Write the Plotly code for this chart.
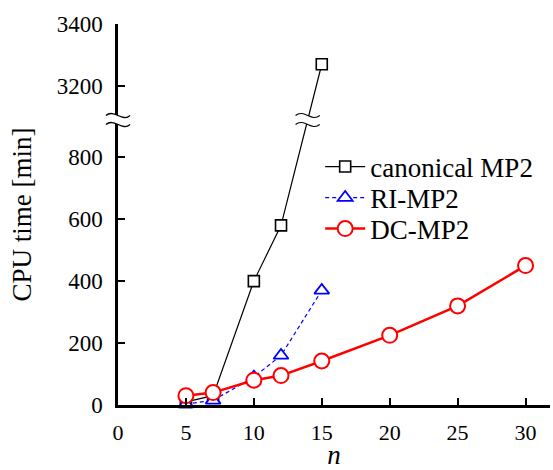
import plotly.graph_objects as go

# ---- data ----
n_canon = [5, 7, 10, 12, 15]
t_canon = [10, 30, 400, 580, 3270]
n_ri = [5, 7, 10, 12, 15]
t_ri = [3, 15, 90, 160, 370]
n_dc = [5, 7, 10, 12, 15, 20, 25, 30]
t_dc = [30, 40, 80, 95, 142, 225, 320, 450]

low_ticks = [0, 200, 400, 600, 800]
high_ticks = [3200, 3400]
x_ticks = [0, 5, 10, 15, 20, 25, 30]

# broken axis: lower part 0..BREAK_LO, upper part BREAK_HI..3400
BREAK_LO = 920
BREAK_HI = 3090
OFFSET = BREAK_HI - BREAK_LO
Y_MAX = 3400 - OFFSET
X_MAX = 31.8

def disp(v):
    return v if v <= BREAK_LO else v - OFFSET

FONT = "Liberation Serif"
PLOT_H = 470 - 24 - 65

fig = go.Figure()
fig.add_trace(go.Scatter(
    x=n_canon, y=[disp(v) for v in t_canon], name="canonical MP2", legend="legend",
    mode="lines+markers", cliponaxis=False,
    line=dict(color="black", width=1.2),
    marker=dict(symbol="square", size=11, color="white",
                line=dict(color="black", width=1.6))))
fig.add_trace(go.Scatter(
    x=n_ri, y=[disp(v) for v in t_ri], name="RI-MP2", legend="legend2",
    mode="lines+markers", cliponaxis=False,
    line=dict(color="blue", width=1.2, dash="4px,3px"),
    marker=dict(symbol="triangle-up", size=13, color="white",
                line=dict(color="blue", width=1.8))))
fig.add_trace(go.Scatter(
    x=n_dc, y=[disp(v) for v in t_dc], name="DC-MP2", legend="legend3",
    mode="lines+markers", cliponaxis=False,
    line=dict(color="red", width=2.5),
    marker=dict(symbol="circle", size=15, color="white",
                line=dict(color="red", width=2))))

# ---- break marks ----
def tilde(cx, cy, a, h):
    return (f"M{cx-a},{cy} C{cx-a/3},{cy+2*h} {cx+a/3},{cy-2*h} {cx+a},{cy}")

def gap(cx, cy, a, h, g):
    top = cy + g
    bot = cy - g
    return (f"M{cx-a},{top} C{cx-a/3},{top+2*h} {cx+a/3},{top-2*h} {cx+a},{top} "
            f"L{cx+a},{bot} C{cx+a/3},{bot-2*h} {cx-a/3},{bot+2*h} {cx-a},{bot} Z")

shapes = []
yc = BREAK_LO / Y_MAX
ah = 0.028
hh = 3.5 / PLOT_H
gg = 4.5 / PLOT_H
shapes.append(dict(type="path", xref="paper", yref="paper", path=gap(0, yc, ah, hh, gg),
                   fillcolor="white", line=dict(width=0), layer="above"))
for s in (1, -1):
    shapes.append(dict(type="path", xref="paper", yref="paper",
                       path=tilde(0, yc + s * gg, ah, hh),
                       line=dict(color="black", width=1.3), layer="above"))
i = next(k for k in range(1, len(t_canon)) if t_canon[k] > BREAK_LO)
x0, x1 = n_canon[i - 1], n_canon[i]
y0, y1 = disp(t_canon[i - 1]), disp(t_canon[i])
xb = x0 + (x1 - x0) * (BREAK_LO - y0) / (y1 - y0)
ax_ = 0.028 * X_MAX
hy = 3.5 / PLOT_H * Y_MAX
gy = 4.5 / PLOT_H * Y_MAX
shapes.append(dict(type="path", xref="x", yref="y", path=gap(xb, BREAK_LO, ax_, hy, gy),
                   fillcolor="white", line=dict(width=0), layer="above"))
for s in (1, -1):
    shapes.append(dict(type="path", xref="x", yref="y",
                       path=tilde(xb, BREAK_LO + s * gy, ax_, hy),
                       line=dict(color="black", width=1.1), layer="above"))

def leg(py):
    return dict(x=0.468, y=(405 - py) / PLOT_H, xanchor="left", yanchor="middle",
                bgcolor="rgba(0,0,0,0)", font=dict(size=27), itemwidth=40,
                borderwidth=0)

fig.update_layout(
    width=553, height=470,
    margin=dict(l=118, r=3, t=24, b=65),
    plot_bgcolor="white", paper_bgcolor="white",
    font=dict(family=FONT, size=22, color="black"),
    showlegend=True,
    legend=leg(167), legend2=leg(198), legend3=leg(229),
    shapes=shapes,
)
fig.update_xaxes(range=[0, X_MAX], tickvals=x_ticks, showgrid=False, zeroline=False,
                 showline=True, linecolor="black", linewidth=2.5, automargin=False,
                 ticks="inside", ticklen=7, tickwidth=2, tickcolor="black",
                 ticklabelstandoff=6, tickfont=dict(size=22),
                 title=dict(text="<i>n</i>", font=dict(size=27), standoff=27))
fig.update_yaxes(range=[0, Y_MAX],
                 tickvals=[disp(v) for v in low_ticks] + [v - OFFSET for v in high_ticks],
                 ticktext=[str(v) for v in low_ticks + high_ticks],
                 showgrid=False, zeroline=False, automargin=False,
                 showline=True, linecolor="black", linewidth=2.5,
                 ticks="inside", ticklen=7, tickwidth=2, tickcolor="black",
                 ticklabelstandoff=8, tickfont=dict(size=23),
                 title=dict(text="CPU time [min]", font=dict(size=27), standoff=18))

fig.write_html("out.html", config={"displayModeBar": False},
               post_script="document.body.style.margin='0';")
